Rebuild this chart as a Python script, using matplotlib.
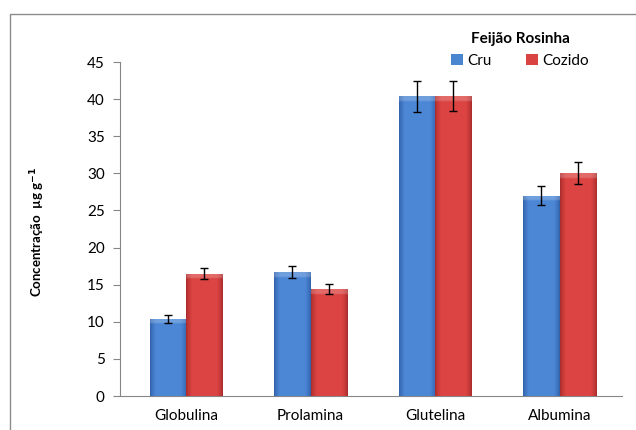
import numpy as np
import matplotlib.pyplot as plt
from matplotlib.patches import Rectangle

plt.rcParams['font.family'] = ['Lato', 'DejaVu Sans']

# dados
categorias = ['Globulina', 'Prolamina', 'Glutelina', 'Albumina']
cru = [10.4, 16.7, 40.4, 27.0]
cru_erro = [0.5, 0.8, 2.1, 1.3]
cozido = [16.5, 14.4, 40.4, 30.0]
cozido_erro = [0.8, 0.7, 2.0, 1.5]


def cor_gradiente(base, escuro, n=60):
    # perfil tipo "bisel" do Excel: bordas mais escuras, meio claro
    t = np.linspace(0, 1, n)
    perfil = np.clip(np.minimum(t, 1 - t) / 0.16, 0, 1) ** 0.7
    base = np.array(base)
    escuro = np.array(escuro)
    linha = escuro[None, :] + (base - escuro)[None, :] * perfil[:, None]
    img = np.repeat(linha[None, :, :], 200, axis=0)
    # faixa fina mais clara no topo
    topo = (np.arange(200) < 3).astype(float)[:, None]
    img = img + (1 - img) * 0.2 * topo[:, :, None]
    return np.clip(img, 0, 1)


img_azul = cor_gradiente((0.30, 0.53, 0.84), (0.19, 0.38, 0.66))
img_verm = cor_gradiente((0.86, 0.27, 0.26), (0.66, 0.17, 0.17))

fig = plt.figure(figsize=(6.36, 4.30), dpi=100)
ax = fig.add_axes([120 / 636, 34 / 430, 502 / 636, 334 / 430])

x = np.arange(len(categorias))
w = 0.293
b1 = ax.bar(x - w / 2, cru, w, color='#4a86d0', label='Cru', zorder=2)
b2 = ax.bar(x + w / 2, cozido, w, color='#d94442', label='Cozido', zorder=2)

for barras, img in ((b1, img_azul), (b2, img_verm)):
    for r in barras:
        x0, y0 = r.get_x(), r.get_y()
        h = r.get_height()
        # recorta a imagem para manter a faixa do topo com a mesma espessura
        linhas = int(round(200 * h / 45))
        im = ax.imshow(img[:max(linhas, 4)], extent=(x0, x0 + r.get_width(), y0, y0 + h),
                       aspect='auto', zorder=3, interpolation='bilinear')
        im.set_clip_path(r)

ax.errorbar(x - w / 2, cru, yerr=cru_erro, fmt='none', ecolor='black',
            elinewidth=1, capsize=3, capthick=1, zorder=4)
ax.errorbar(x + w / 2, cozido, yerr=cozido_erro, fmt='none', ecolor='black',
            elinewidth=1, capsize=3, capthick=1, zorder=4)

ax.set_xlim(-0.53, 3.5)
ax.set_ylim(0, 45)
ax.set_yticks(range(0, 46, 5))
ax.set_xticks(x)
ax.set_xticklabels(categorias, fontsize=11)
ax.tick_params(axis='x', length=0, pad=9)
ax.tick_params(axis='y', length=5, color='#868686', labelsize=11, pad=6)
for s in ['top', 'right']:
    ax.spines[s].set_visible(False)
for s in ['left', 'bottom']:
    ax.spines[s].set_color('#868686')

ax.set_ylabel('Concentração  µg g$^{\\mathbf{-1}}$', fontsize=9.5, fontweight='bold')
ax.yaxis.set_label_coords(-0.145, 0.49)

leg = ax.legend(handles=[b1, b2], ncol=2, frameon=False, fontsize=11,
                title='Feijão Rosinha', title_fontproperties={'weight': 'bold', 'size': 11},
                loc='upper center', bbox_to_anchor=(520 / 636, 1 - 26 / 430),
                bbox_transform=fig.transFigure, handlelength=0.8, handleheight=0.8,
                handletextpad=0.3, columnspacing=2.2, borderaxespad=0)

# moldura do gráfico (cortada à direita e embaixo)
fig.patches.append(Rectangle((10 / 636, -0.1), 1.2, 1 - 14 / 430 + 0.1,
                             transform=fig.transFigure, fill=False,
                             edgecolor='#8c8c8c', linewidth=1))

fig.savefig('out.png', dpi=100)
